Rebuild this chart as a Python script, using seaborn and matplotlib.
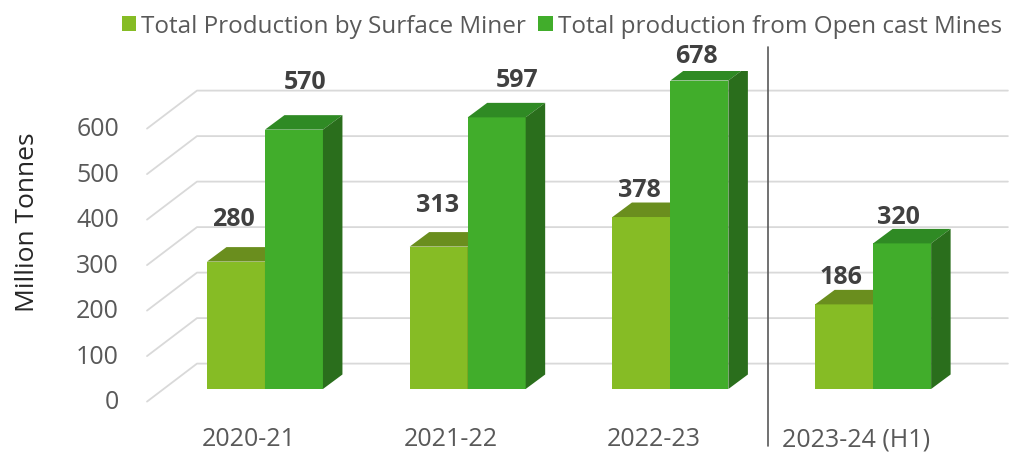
import numpy as np
import pandas as pd
import seaborn as sns
import matplotlib.pyplot as plt
from matplotlib.patches import Polygon
from matplotlib.transforms import ScaledTranslation

# data
years = ["2020-21", "2021-22", "2022-23", "2023-24 (H1)"]
surface_miner = [280, 313, 378, 186]
open_cast = [570, 597, 678, 320]
series_names = ["Total Production by Surface Miner", "Total production from Open cast Mines"]
y_ticks = [0, 100, 200, 300, 400, 500, 600]

# styling
front_cols = ["#86BC25", "#41AD2B"]
top_cols = ["#6A8E1E", "#2F8A24"]
side_cols = ["#5E7F1A", "#2A6E1C"]
bar_depth = (19.5, 14.5)      # px, depth of each bar
floor_front = (-16.6, -12.6)  # px, front edge of the floor
floor_back = (33.4, 25.4)     # px, back wall
# label nudges (px) per bar, surface first then open cast
nudge = [(-3, 43), (-1, 42), (-2, 28), (-3, 28),
         (11, 48), (20, 38), (-3, 25), (-4, 27)]

df = pd.DataFrame({
    "year": years * 2,
    "value": surface_miner + open_cast,
    "series": [series_names[0]] * 4 + [series_names[1]] * 4,
})

sns.set_theme(style="white")
plt.rcParams['font.family'] = ['Open Sans', 'DejaVu Sans']

fig = plt.figure(figsize=(10.18, 4.56), dpi=100)
ax = fig.add_axes([163.6 / 1018, 66 / 456, 810.9 / 1018, 318.5 / 456])

sns.barplot(data=df, x="year", y="value", hue="series", palette=front_cols,
            width=0.572, saturation=1, linewidth=0, ax=ax)
ax.set_xlim(-0.5, 3.5)
ax.set_ylim(0, 700)
ax.set_axis_off()


def shift(x, y, dx, dy):
    p = ax.transData.transform((x, y))
    return ax.transData.inverted().transform((p[0] + dx, p[1] + dy))


def off(dx, dy):
    return ax.transData + ScaledTranslation(dx / 100, dy / 100, fig.dpi_scale_trans)


# floor / back wall gridlines
for v in y_ticks:
    pts = np.array([shift(-0.5, v, *floor_front),
                    shift(-0.5, v, *floor_back),
                    shift(3.5, v, *floor_back)])
    ax.plot(pts[:, 0], pts[:, 1], color="#D9D9D9", lw=1.3, zorder=1, clip_on=False)
    ax.text(-0.5, v, str(v), transform=off(floor_front[0] - 28, floor_front[1]),
            ha="right", va="center", fontsize=18, color="#595959")

# 3d faces for the bars
k = 0
for s, cont in enumerate(ax.containers):
    for bar in cont:
        x0 = bar.get_x()
        x1 = x0 + bar.get_width()
        h = bar.get_height()
        bar.set_zorder(3 + s)
        top = [(x0, h), (x1, h), shift(x1, h, *bar_depth), shift(x0, h, *bar_depth)]
        side = [(x1, 0), (x1, h), shift(x1, h, *bar_depth), shift(x1, 0, *bar_depth)]
        ax.add_patch(Polygon(top, closed=True, fc=top_cols[s], ec="none", zorder=3.1 + s))
        ax.add_patch(Polygon(side, closed=True, fc=side_cols[s], ec="none", zorder=3.1 + s))
        dx, dy = nudge[k]
        ax.text((x0 + x1) / 2, h, f"{h:.0f}", transform=off(dx, dy), ha="center",
                va="center", fontsize=18, fontweight="bold", color="#404040",
                zorder=6, clip_on=False)
        k += 1

# category labels along the front edge of the floor
for i, yr in enumerate(years):
    ax.text(i, 0, yr, transform=off(floor_front[0], -50), ha="center", va="center",
            fontsize=18, color="#595959", clip_on=False)

# separator for the half year
fig.add_artist(plt.Line2D([768 / 1018, 768 / 1018], [1 - 48 / 456, 1 - 447 / 456],
                          color="#595959", lw=1.2))

fig.text(28 / 1018, 1 - 222 / 456, "Million Tonnes", rotation=90, ha="center",
         va="center", fontsize=19, color="#262626")

sns.move_legend(ax, "upper center", bbox_to_anchor=(0.552, 1.015),
                bbox_transform=fig.transFigure, ncol=2, title=None, frameon=False,
                fontsize=17.5, handlelength=0.6, handleheight=0.6,
                handletextpad=0.2, columnspacing=0.5, labelcolor="#595959")

fig.savefig("out.png", dpi=100)
